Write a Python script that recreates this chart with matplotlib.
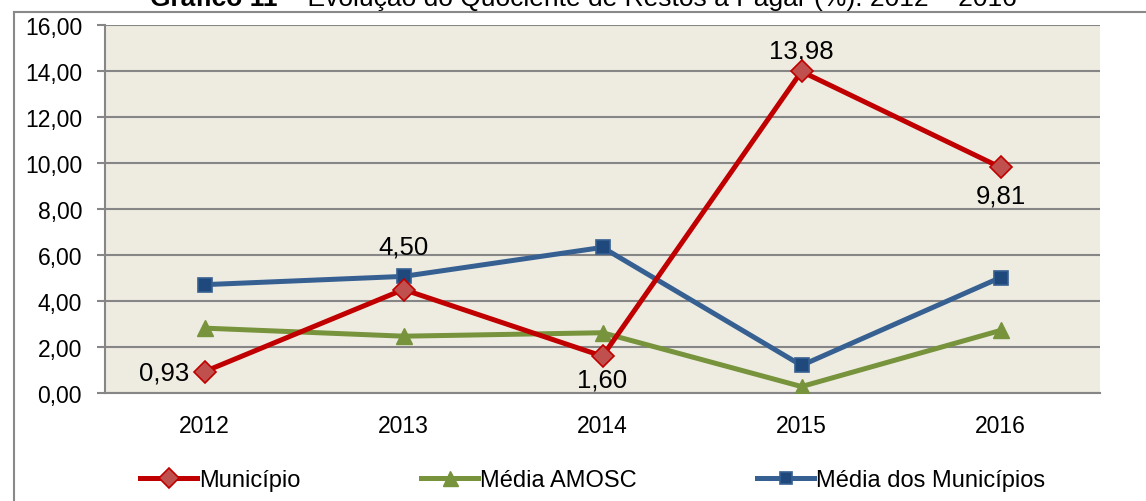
import matplotlib
matplotlib.use("Agg")
import matplotlib.pyplot as plt
from matplotlib.lines import Line2D
import numpy as np

plt.rcParams["font.family"] = ["Liberation Sans", "DejaVu Sans"]

years = ["2012", "2013", "2014", "2015", "2016"]
municipio = [0.93, 4.50, 1.60, 13.98, 9.81]
media_amosc = [2.82, 2.47, 2.62, 0.28, 2.72]
media_municipios = [4.71, 5.07, 6.33, 1.20, 5.02]

labels_mun = ["0,93", "4,50", "1,60", "13,98", "9,81"]

W, H = 1146, 502
fig = plt.figure(figsize=(W / 100, H / 100), dpi=100)

# outer frame (only left and top visible in the crop)
fig.add_artist(Line2D([14 / W, 14 / W], [0, 1 - 13 / H], color="#898989", lw=1.5))
fig.add_artist(Line2D([14 / W, 1], [1 - 13 / H, 1 - 13 / H], color="#898989", lw=1.5))

# title, bold part + normal part, cut at top like the original
t1 = fig.text(150 / W, 1 - 6 / H, "Gráfico 11", fontsize=19, fontweight="bold",
              ha="left", va="baseline")
fig.canvas.draw()
bb = t1.get_window_extent()
fig.text(bb.x1 / W, 1 - 6 / H, " – Evolução do Quociente de Restos a Pagar (%): 2012 – 2016",
         fontsize=19, ha="left", va="baseline")

ax = fig.add_axes([105 / W, (H - 394) / H, 995 / W, 368 / H])
ax.set_facecolor("#EEECE1")

x = np.arange(len(years))
ax.plot(x, municipio, color="#C00000", lw=3.6, marker="D", ms=11,
        mfc="#C0504D", mec="#C00000", mew=1.2, label="Município", zorder=5)
ax.plot(x, media_amosc, color="#77933C", lw=3.6, marker="^", ms=12,
        mfc="#77933C", mec="#77933C", label="Média AMOSC", zorder=4)
ax.plot(x, media_municipios, color="#376092", lw=3.6, marker="s", ms=10,
        mfc="#1F497D", mec="#376092", mew=1.2, label="Média dos Municípios", zorder=4)

# label placement (pixels) for the Município values
lab_dx = [-15, 0, 0, 0, 0]
lab_dy = [-1, 36, -11, 14, -16]
lab_ha = ["right", "center", "center", "center", "center"]
lab_va = ["center", "baseline", "top", "baseline", "top"]
for xi, v, t, dx, dy, ha, va in zip(x, municipio, labels_mun, lab_dx, lab_dy, lab_ha, lab_va):
    ax.annotate(t, (xi, v), xytext=(dx * 0.72, dy * 0.72), textcoords="offset points",
                ha=ha, va=va, fontsize=18.5)

ax.set_xlim(-0.5, len(years) - 0.5)
ax.set_ylim(0, 16)
ax.set_yticks(np.arange(0, 17, 2))
ax.set_yticklabels([f"{v:.2f}".replace(".", ",") for v in np.arange(0, 17, 2)])
ax.set_xticks(x)
ax.set_xticklabels(years)
ax.tick_params(axis="y", labelsize=16.5, length=5.5, color="#868686", width=1.5, pad=11)
ax.tick_params(axis="x", labelsize=16.5, length=0, pad=15)

ax.grid(axis="y", color="#868686", lw=1.5)
ax.set_axisbelow(True)
for s in ["top", "right"]:
    ax.spines[s].set_visible(False)
for s in ["left", "bottom"]:
    ax.spines[s].set_color("#868686")
    ax.spines[s].set_linewidth(1.5)

fig.legend(loc="center", bbox_to_anchor=(593 / W, 1 - 481 / H), ncol=3,
           frameon=False, fontsize=17, handlelength=2.4, handletextpad=0.1,
           columnspacing=5.1, markerscale=0.9)

fig.savefig("out.png", dpi=100)
